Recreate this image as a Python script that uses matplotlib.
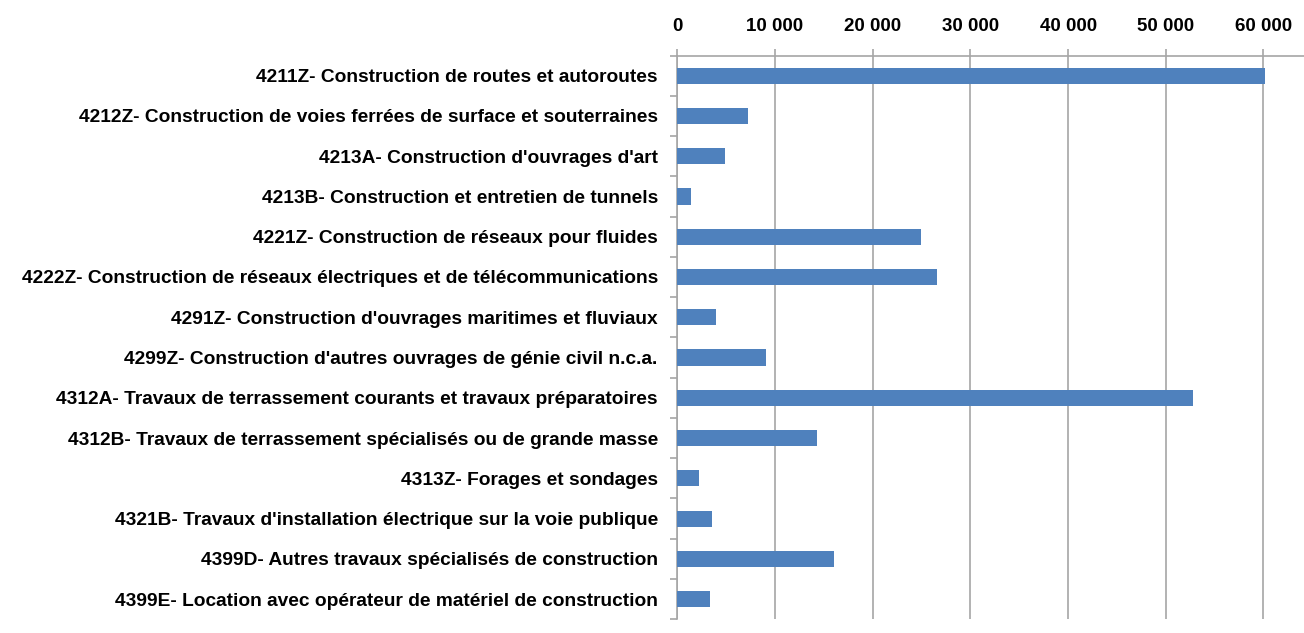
import matplotlib
matplotlib.use("Agg")
import matplotlib.pyplot as plt
from matplotlib.ticker import FuncFormatter, FixedLocator

# donnees
categories = [
    "4211Z- Construction de routes et autoroutes",
    "4212Z- Construction de voies ferrées de surface et souterraines",
    "4213A- Construction d'ouvrages d'art",
    "4213B- Construction et entretien de tunnels",
    "4221Z- Construction de réseaux pour fluides",
    "4222Z- Construction de réseaux électriques et de télécommunications",
    "4291Z- Construction d'ouvrages maritimes et fluviaux",
    "4299Z- Construction d'autres ouvrages de génie civil n.c.a.",
    "4312A- Travaux de terrassement courants et travaux préparatoires",
    "4312B- Travaux de terrassement spécialisés ou de grande masse",
    "4313Z- Forages et sondages",
    "4321B- Travaux d'installation électrique sur la voie publique",
    "4399D- Autres travaux spécialisés de construction",
    "4399E- Location avec opérateur de matériel de construction",
]
valeurs = [60200, 7270, 4850, 1370, 24900, 26600, 3990, 9100,
           52750, 14330, 2190, 3580, 16040, 3350]
x_ticks = [0, 10000, 20000, 30000, 40000, 50000, 60000]

police = ['Liberation Sans', 'DejaVu Sans']
gris = '#A6A6A6'

fig = plt.figure(figsize=(13.04, 6.33), dpi=100)
# zone de trace placee en pixels: gauche 677, haut 55.5, bas 619.3
ax = fig.add_axes([677.3 / 1304, (633 - 619.3) / 633, 1 - 677.3 / 1304, (619.3 - 55.5) / 633])

y = list(range(len(categories)))
ax.barh(y, valeurs, height=0.4, color='#4F81BD', zorder=3)

ax.set_ylim(len(categories) - 0.5, -0.5)
ax.set_xlim(0, 64150)

ax.xaxis.set_ticks_position('top')
ax.xaxis.set_label_position('top')
ax.set_xticks(x_ticks)
ax.xaxis.set_major_formatter(FuncFormatter(lambda v, p: f"{int(v):,}".replace(",", " ")))
ax.grid(axis='x', color=gris, linewidth=1.2, zorder=0)

ax.set_yticks(y)
ax.set_yticklabels(categories)
ax.yaxis.set_minor_locator(FixedLocator([i + 0.5 for i in range(-1, len(categories))]))
ax.tick_params(axis='y', which='major', length=0, pad=14)
ax.tick_params(axis='y', which='minor', length=5, color=gris, width=1.2)
ax.tick_params(axis='x', which='major', length=5, color=gris, width=1.2, pad=10)

for lab in ax.get_yticklabels():
    lab.set_family(police)
    lab.set_fontweight('bold')
    lab.set_fontsize(13.8)
for lab in ax.get_xticklabels():
    lab.set_family(police)
    lab.set_fontweight('bold')
    lab.set_fontsize(13.5)

for s in ['right', 'bottom']:
    ax.spines[s].set_visible(False)
for s in ['left', 'top']:
    ax.spines[s].set_color(gris)
    ax.spines[s].set_linewidth(1.2)

fig.savefig('out.png', dpi=100)
